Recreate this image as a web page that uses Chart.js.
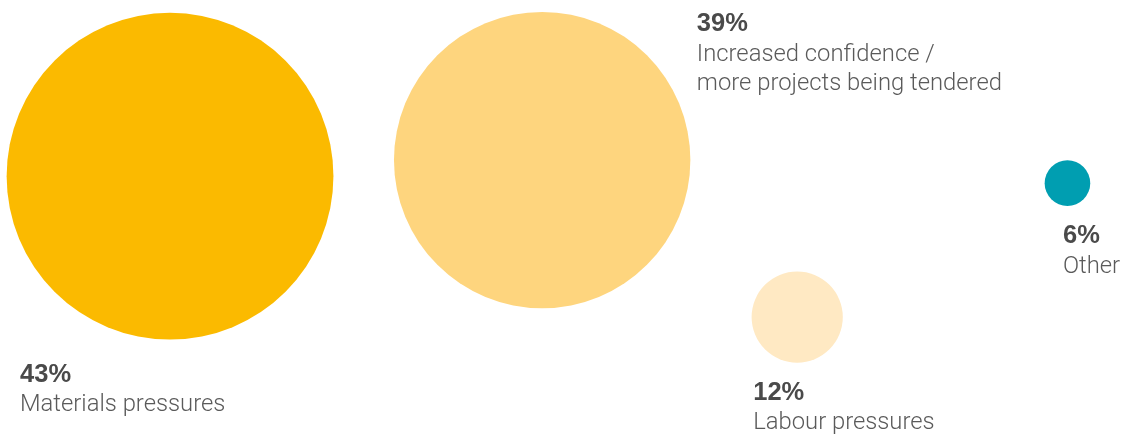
<!DOCTYPE html>
<html>
<head>
<meta charset="utf-8">
<script src="https://cdn.jsdelivr.net/npm/chart.js@4/dist/chart.umd.min.js"></script>
<style>
  html, body { margin: 0; padding: 0; background: #ffffff; }
  #wrap { width: 1126px; height: 435px; position: relative; }
</style>
</head>
<body>
<div id="wrap"><canvas id="c" width="1126" height="435"></canvas></div>
<script>
// ---- data ----
const categories = ["Materials pressures", "Increased confidence / more projects being tendered", "Labour pressures", "Other"];
const labelLines = [["Materials pressures"], ["Increased confidence /", "more projects being tendered"], ["Labour pressures"], ["Other"]];
const shares = [43, 39, 12, 6];                 // percent
const xPos = [15.1, 48.15, 70.8, 94.8];          // horizontal placement (0-100)
const yPos = [40.5, 36.8, 72.9, 42.1];           // vertical placement (0-100, from top)
const colors = ["#FBBA00", "#FED57E", "#FFE9C3", "#009EB1"];
// label placement: anchor side and offsets
const labelAnchor = ["below", "right", "below", "below"];

const PX_PER_PCT = 3.8;

const labelPlugin = {
  id: 'bubbleLabels',
  afterDatasetsDraw(chart) {
    const ctx = chart.ctx;
    const meta = chart.getDatasetMeta(0);
    meta.data.forEach((el, i) => {
      const r = shares[i] * PX_PER_PCT;
      let x, y0;
      if (labelAnchor[i] === 'right') {
        x = el.x + r + 6.5;
        y0 = el.y - r + 19.5;
      } else {
        const dx = [-150, 0, -44, -4.5][i];
        x = el.x + dx;
        y0 = el.y + r + [42, 0, 37, 37.5][i];
      }
      ctx.save();
      ctx.textBaseline = 'alphabetic';
      ctx.textAlign = 'left';
      ctx.fillStyle = '#4a4a4a';
      ctx.font = 'bold 25.5px "Liberation Sans", Arial, sans-serif';
      ctx.fillText(shares[i] + '%', x, y0);
      ctx.fillStyle = '#5a5a5a';
      ctx.font = '300 23.8px Roboto, "Liberation Sans", sans-serif';
      labelLines[i].forEach((ln, k) => {
        ctx.fillText(ln, x, y0 + 29.5 * (k + 1));
      });
      ctx.restore();
    });
  }
};

new Chart(document.getElementById('c'), {
  type: 'bubble',
  data: {
    labels: categories,
    datasets: [{
      data: shares.map((v, i) => ({ x: xPos[i], y: yPos[i], r: v * PX_PER_PCT })),
      backgroundColor: colors,
      borderWidth: 0,
      hoverBorderWidth: 0,
      clip: false
    }]
  },
  options: {
    responsive: false,
    animation: false,
    layout: { padding: 0, autoPadding: false },
    plugins: { legend: { display: false }, tooltip: { enabled: false } },
    scales: {
      x: { type: 'linear', min: 0, max: 100, display: false },
      y: { type: 'linear', min: 0, max: 100, reverse: true, display: false }
    }
  },
  plugins: [labelPlugin]
});
</script>
</body>
</html>
